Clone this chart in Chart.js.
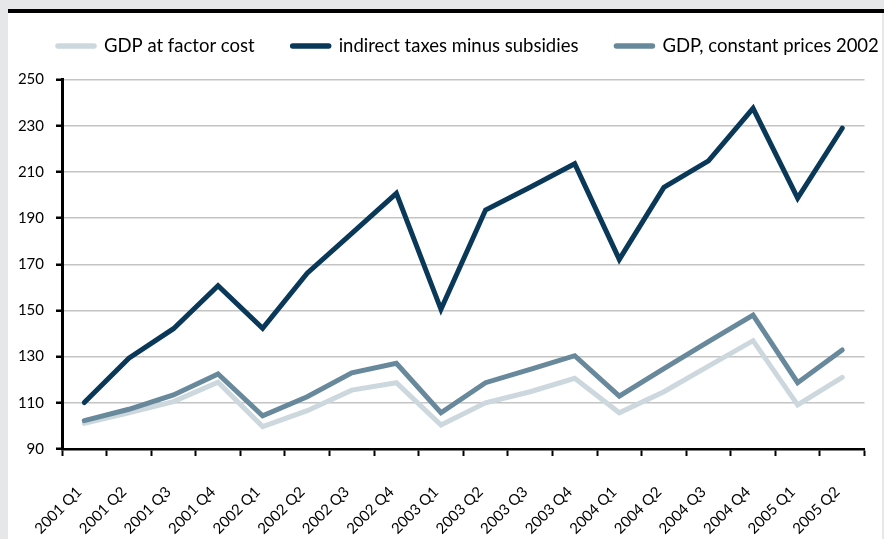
<!DOCTYPE html>
<html>

<head>
    <title>GDP and indirect taxes</title>
    <style>
        body {
            margin: 0;
            background: #e6e7e8;
            width: 884px;
            height: 539px;
            overflow: hidden;
            position: relative;
        }

        .topbar {
            position: absolute;
            left: 8px;
            top: 9px;
            width: 876px;
            height: 4px;
            background: #000;
        }

        .panel {
            position: absolute;
            left: 8px;
            top: 13px;
            width: 874px;
            height: 526px;
            background: #fff;
        }
    </style>
</head>

<body>
    <div class="topbar"></div>
    <div class="panel">
        <canvas id="gdpChart"></canvas>
    </div>

    <script src="https://cdn.jsdelivr.net/npm/chart.js"></script>
    <script>
        // quarters on the x axis
        var quarters = ['2001 Q1', '2001 Q2', '2001 Q3', '2001 Q4', '2002 Q1', '2002 Q2', '2002 Q3', '2002 Q4',
            '2003 Q1', '2003 Q2', '2003 Q3', '2003 Q4', '2004 Q1', '2004 Q2', '2004 Q3', '2004 Q4',
            '2005 Q1', '2005 Q2'];

        var seriesNames = ['GDP at factor cost', 'indirect taxes minus subsidies', 'GDP, constant prices 2002'];

        var factorCost = [101.1, 105.7, 110.5, 118.9, 99.7, 106.6, 115.5, 118.7, 100.4, 110.0,
            114.8, 120.6, 105.7, 114.8, 125.9, 136.9, 109.1, 121.0];
        var indirectTaxes = [110.1, 129.3, 142.1, 160.7, 142.3, 166.1, 183.4, 200.7, 150.5, 193.5,
            203.3, 213.5, 172.1, 203.3, 214.8, 237.5, 198.6, 228.9];
        var constantPrices = [102.3, 107.2, 113.4, 122.5, 104.4, 112.6, 123.0, 127.1, 105.7, 118.7,
            124.5, 130.4, 112.9, 124.8, 136.5, 148.0, 118.7, 132.9];

        var yMin = 90;
        var yMax = 250;
        var yStep = 20;

        var fontFamily = 'Lato, "Open Sans", sans-serif';

        function lineSet(name, values, color, order) {
            return {
                label: name,
                data: values,
                borderColor: color,
                backgroundColor: color,
                borderWidth: 5,
                borderCapStyle: 'round',
                borderJoinStyle: 'miter',
                pointRadius: 0,
                tension: 0,
                fill: false,
                order: order
            };
        }

        // one-row legend across the top: rounded stroke, then the series name
        var topLegend = {
            id: 'topLegend',
            afterDraw: function (chart) {
                var c = chart.ctx;
                var x = 47;
                var y = 33;
                c.save();
                c.font = '18.5px ' + fontFamily;
                c.textBaseline = 'middle';
                c.textAlign = 'left';
                chart.data.datasets.forEach(function (ds) {
                    c.strokeStyle = ds.borderColor;
                    c.lineWidth = 5.5;
                    c.lineCap = 'round';
                    c.beginPath();
                    c.moveTo(x + 3, y);
                    c.lineTo(x + 39, y);
                    c.stroke();
                    c.fillStyle = '#000';
                    c.fillText(ds.label, x + 49, y);
                    x += 49 + c.measureText(ds.label).width + 35;
                });
                c.restore();
            }
        };

        var ctx = document.getElementById('gdpChart').getContext('2d');

        var gdpChart = new Chart(ctx, {
            type: 'line',
            data: {
                labels: quarters,
                datasets: [
                    lineSet(seriesNames[0], factorCost, '#ccd7de', 3),
                    lineSet(seriesNames[1], indirectTaxes, '#0a3858', 1),
                    lineSet(seriesNames[2], constantPrices, '#68889c', 2)
                ]
            },
            plugins: [topLegend],
            options: {
                responsive: true,
                maintainAspectRatio: false,
                animation: false,
                layout: {
                    padding: { top: 66.5, right: 2, left: 0, bottom: 0 }
                },
                plugins: {
                    tooltip: { enabled: false },
                    legend: { display: false }
                },
                scales: {
                    x: {
                        offset: true,
                        grid: {
                            offset: true,
                            drawOnChartArea: false,
                            drawTicks: true,
                            tickLength: 7,
                            tickWidth: 2,
                            tickColor: '#000'
                        },
                        border: { color: '#000', width: 2.5 },
                        ticks: {
                            autoSkip: false,
                            maxRotation: 45,
                            minRotation: 45,
                            padding: 27,
                            labelOffset: -5,
                            color: '#000',
                            font: { family: fontFamily, size: 15 }
                        },
                        afterFit: function (scale) { scale.height = 90; }
                    },
                    y: {
                        min: yMin,
                        max: yMax,
                        grid: {
                            color: '#c4c4c4',
                            lineWidth: 1.5,
                            tickColor: '#000',
                            tickLength: 6,
                            tickWidth: 2.5
                        },
                        border: { color: '#000', width: 3 },
                        ticks: {
                            stepSize: yStep,
                            padding: 12,
                            color: '#000',
                            font: { family: fontFamily, size: 15 }
                        },
                        afterFit: function (scale) { scale.width = 54; }
                    }
                }
            }
        });
    </script>
</body>

</html>
